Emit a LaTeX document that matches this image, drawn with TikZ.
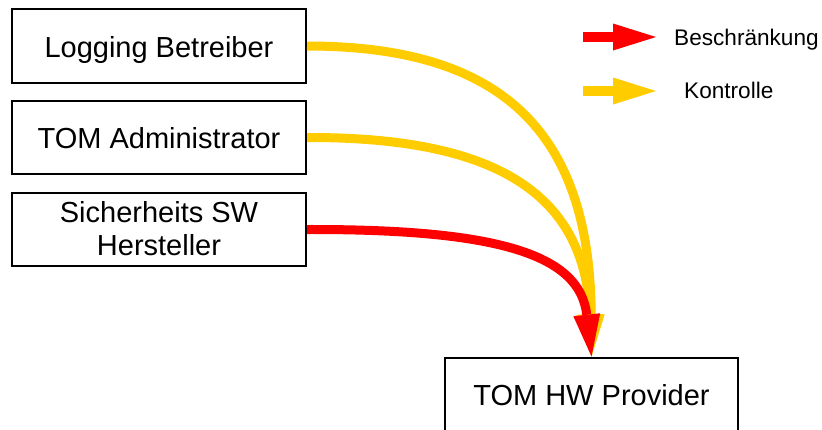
\documentclass[tikz,border=0pt]{standalone}
\usepackage{fontspec}
\setmainfont{Liberation Sans}
\usetikzlibrary{arrows.meta}
\definecolor{ctrlyellow}{HTML}{FFCC00}
\definecolor{limitred}{HTML}{FF0000}
\tikzset{
  box/.style={draw=black, line width=2pt, minimum width=294pt, inner sep=0pt},
  boxlabel/.style={anchor=base, inner sep=0pt, font=\fontsize{29}{33}\selectfont},
  legendlabel/.style={anchor=base west, inner sep=0pt, font=\fontsize{22.6}{26}\selectfont},
  flow/.style={line width=9pt, -{Triangle[length=42pt,width=27pt,line width=0pt]}},
  keyarrow/.style={line width=10pt, -{Triangle[length=43pt,width=27pt,line width=0pt]}},
}
\begin{document}
\begin{tikzpicture}[x=1pt, y=-1pt]
  \useasboundingbox (0,0) rectangle (822,429);
  \clip (0,0) rectangle (822,429);

  % role boxes
  \node[box, minimum height=74pt] (lb) at (159,46) {};
  \node[box, minimum height=73pt] (ta) at (159,137.5) {};
  \node[box, minimum height=73pt] (sw) at (159,229.5) {};
  \node[box, minimum width=293pt, minimum height=83pt] (hw) at (591.5,399) {};

  \node[boxlabel] (lbt) at (159,57) {Logging Betreiber};
  \node[boxlabel] (tat) at (159,148) {TOM Administrator};
  \node[boxlabel] (swt1) at (159,222) {Sicherheits SW};
  \node[boxlabel] (swt2) at (159,255) {Hersteller};
  \node[boxlabel] (hwt) at (591.5,405) {TOM HW Provider};

  % control and restriction flows
  \draw[flow, ctrlyellow] (lb.east) .. controls (500,46) and (590,130) .. (hw.north);
  \draw[flow, ctrlyellow] (ta.east) .. controls (490,137) and (585,190) .. (hw.north);
  \draw[flow, limitred] (sw.east) .. controls (500,229) and (580,255) .. (hw.north);

  % legend
  \coordinate (r0) at (583,37);
  \coordinate (r1) at (656,37);
  \coordinate (y0) at (583,91);
  \coordinate (y1) at (656,91);
  \draw[keyarrow, limitred] (r0) -- (r1);
  \draw[keyarrow, ctrlyellow] (y0) -- (y1);
  \node[legendlabel] (lr) at (674,45) {Beschränkung};
  \node[legendlabel] (ly) at (684,98) {Kontrolle};
\end{tikzpicture}
\end{document}
